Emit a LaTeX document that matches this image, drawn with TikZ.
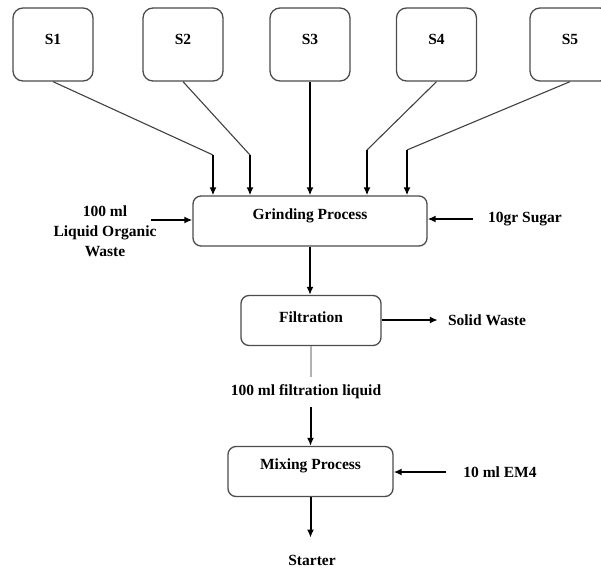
\documentclass[tikz,border=0pt]{standalone}
\usepackage{fontspec}
\setmainfont{Liberation Serif}
\usetikzlibrary{arrows.meta}

\begin{document}
\begin{tikzpicture}[x=1pt, y=-1pt, font=\fontsize{15.5}{20}\selectfont\bfseries, src/.style={draw=black!70, rounded corners=10, line width=1.3pt, minimum width=80pt, minimum height=73pt, inner sep=0pt, text depth=11pt}, proc/.style={draw=black!70, rounded corners=8, line width=1.3pt, minimum height=50pt, inner sep=0pt}, info/.style={inner sep=0pt, align=center}, n/.style={-{Latex[length=8pt, width=7pt]}, line width=2pt}, l/.style={line width=1.1pt, draw=black!75}]
                \useasboundingbox (0,0) rectangle (601,567);
                % nodes
                \node[src]  (s1) at (53,44.5) {S1};
                \node[src]  (s2) at (183,44.5) {S2};
                \node[src]  (s3) at (310,44.5) {S3};
                \node[src]  (s4) at (436.5,44.5) {S4};
                \node[src]  (s5) at (570,44.5) {S5};
                \node[proc, minimum width=234pt, text depth=14pt] (grind) at (310,221) {Grinding Process};
                \node[proc, minimum width=140pt, text depth=7.5pt] (filt) at (311,320.5) {Filtration};
                \node[proc, minimum width=165pt, text depth=15pt] (mix) at (310.5,471.5) {Mixing Process};
                \node[info] (organic) at (105,231) {100 ml\\Liquid Organic\\Waste};
                \node[info] (sugar) at (525,219) {10gr Sugar};
                \node[info] (waste) at (487,320) {Solid Waste};
                \node[info] (liquid) at (306,392) {100 ml filtration liquid};
                \node[info] (em) at (500,472) {10 ml EM4};
                \node[info] (starter) at (312,560) {Starter};
                \coordinate (b1) at (213,155);
                \coordinate (b2) at (250,155);
                \coordinate (b4) at (367,150);
                \coordinate (b5) at (407,150);
                \coordinate (lw) at (151,220);
                % edges
                \draw [l] (s1.south) -- (b1);
                \draw [n] (b1) -- (b1 |- grind.north);
                \draw [l] (s2.south) -- (b2);
                \draw [n] (b2) -- (b2 |- grind.north);
                \draw [n] (s3.south) -- (s3.south |- grind.north);
                \draw [l] (s4.south) -- (b4);
                \draw [n] (b4) -- (b4 |- grind.north);
                \draw [l] (s5.south) -- (b5);
                \draw [n] (b5) -- (b5 |- grind.north);
                \draw [n] (lw) -- (lw -| grind.west);
                \draw [n, shorten <=15pt] (sugar.west) -- (sugar.west -| grind.east);
                \draw [n] (grind.south) -- (grind.south |- filt.north);
                \draw [n, shorten >=10pt] (filt.east |- waste) -- (waste.west);
                \draw [l, draw=black!30, shorten >=8pt] (filt.south) -- (filt.south |- liquid.north);
                \draw [n, shorten <=8pt] (liquid.south -| mix.north) -- (mix.north);
                \draw [n, shorten <=17pt] (em.west) -- (em.west -| mix.east);
                \draw [n, shorten >=17pt] (mix.south) -- (mix.south |- starter.north);
            \end{tikzpicture}
\end{document}
